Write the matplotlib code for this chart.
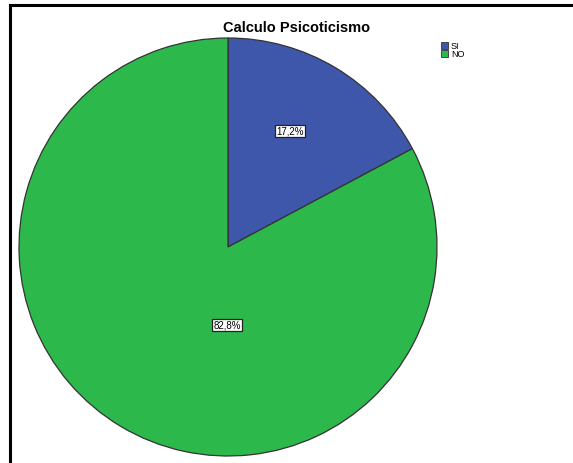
import matplotlib
matplotlib.use("Agg")
import matplotlib.pyplot as plt
from matplotlib.patches import Rectangle
from matplotlib.lines import Line2D

categories = ["SI", "NO"]
percentages = [17.2, 82.8]
colors = ["#3F57AB", "#2DB84C"]
value_labels = ["17,2%", "82,8%"]

W, H = 573, 464
fig = plt.figure(figsize=(W / 100, H / 100), dpi=100)
ax = fig.add_axes([0, 0, 1, 1])

plt.rcParams["font.family"] = ["Liberation Sans", "DejaVu Sans"]

cx, cy, r = 228, H - 248, 209
wedges, _ = ax.pie(
    percentages, colors=colors, startangle=90, counterclock=False,
    center=(cx, cy), radius=r, frame=True,
    wedgeprops=dict(edgecolor="#333333", linewidth=0.9),
)
ax.set_xlim(0, W)
ax.set_ylim(0, H)
ax.set_aspect("equal")
ax.axis("off")

# value labels inside slices
label_pos = [(cx + 62, cy + 116), (cx - 1, cy - 78)]
for (x, y), txt in zip(label_pos, value_labels):
    ax.text(x, y, txt, ha="center", va="center", fontsize=7,
            bbox=dict(boxstyle="square,pad=0.15", facecolor="white",
                      edgecolor="#222222", linewidth=0.9))

# title
ax.text(297, H - 28, "Calculo Psicoticismo", ha="center", va="center",
        fontsize=10.5, fontweight="bold")

# legend
for i, (name, col) in enumerate(zip(categories, colors)):
    y0 = H - 50 - i * 8
    ax.add_patch(Rectangle((441, y0), 7, 7, facecolor=col,
                           edgecolor="#333333", linewidth=0.6))
    ax.text(451, y0 + 3.5, name, ha="left", va="center", fontsize=6.5)

# outer frame (top and left edges)
ax.add_line(Line2D([10, W], [H - 6, H - 6], color="black", linewidth=2.2))
ax.add_line(Line2D([10, 10], [0, H - 6], color="black", linewidth=2.2))

fig.savefig("out.png", dpi=100)
